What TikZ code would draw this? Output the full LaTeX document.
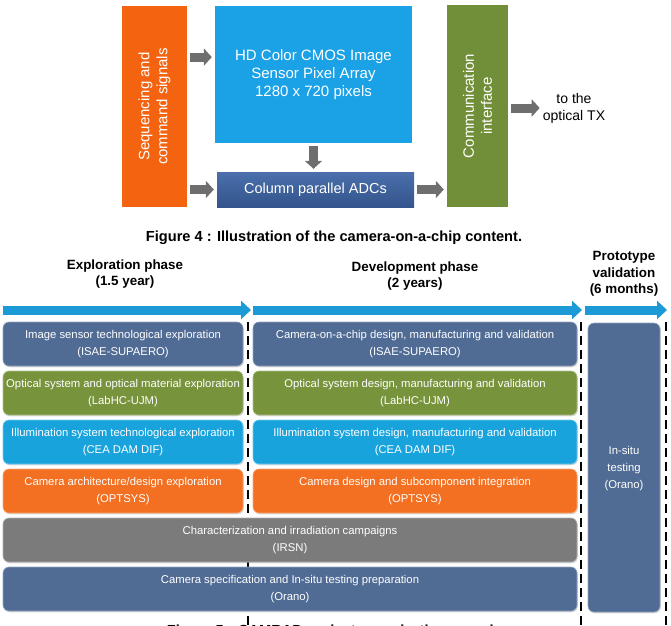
\documentclass[tikz,border=0pt]{standalone}
\usepackage{fontspec}
\setmainfont{Liberation Sans}
\usetikzlibrary{arrows.meta,shadows}

\definecolor{seqorange}{HTML}{F4630F}
\definecolor{sensorblue}{HTML}{1BA1E6}
\definecolor{adctop}{HTML}{4A6FAB}
\definecolor{adcbottom}{HTML}{34558C}
\definecolor{commgreen}{HTML}{718F38}
\definecolor{arrowgray}{HTML}{6E6E6E}
\definecolor{wpnavy}{HTML}{506B94}
\definecolor{wpolive}{HTML}{77933C}
\definecolor{wpcyan}{HTML}{18A3DD}
\definecolor{wporange}{HTML}{F36F21}
\definecolor{wpgray}{HTML}{7B7B7B}
\definecolor{timeblue}{HTML}{1B9AD6}

\begin{document}
\begin{tikzpicture}[x=1pt, y=-1pt,
  chipbox/.style={rectangle, fill=#1, text=white, inner sep=0pt, align=center,
    font=\fontsize{15}{18}\selectfont},
  grayarrow/.style={draw=arrowgray, line width=9pt,
    -{Triangle[length=8pt, width=17pt]}, shorten <=3pt, shorten >=3pt},
  phasebox/.style={rectangle, rounded corners=6pt, fill=#1, draw=#1!60!white,
    line width=0.6pt, text=white, inner sep=0pt, align=center,
    minimum height=44pt, font=\fontsize{11.3}{17}\selectfont,
    drop shadow={shadow xshift=0.8pt, shadow yshift=-1.3pt, opacity=0.3}},
  phasehead/.style={align=center, font=\fontsize{13.4}{16.5}\selectfont\bfseries},
  figcaption/.style={font=\fontsize{14.6}{17}\selectfont\bfseries},
  timeline/.style={draw=timeblue, line width=9pt,
    -{Triangle[length=10pt, width=18pt]}},
  phasesep/.style={line width=2.8pt, dash pattern=on 9pt off 5pt}]
  \useasboundingbox (0,0) rectangle (671,625);

  % Nodes
  \node[chipbox=seqorange, rotate=90, minimum width=201pt, minimum height=65pt] (seq) at (154.5,106.5) {Sequencing and\\command signals};
  \node[chipbox=sensorblue, minimum width=197pt, minimum height=137pt] (sensor) at (313.5,74.5) {HD Color CMOS Image\\Sensor Pixel Array\\1280 x 720 pixels};
  \node[chipbox=adctop, top color=adctop, bottom color=adcbottom, minimum width=197pt, minimum height=35pt, font=\fontsize{14.5}{17}\selectfont] (adc) at (315.5,189.5) {Column parallel ADCs};
  \node[chipbox=commgreen, rotate=90, minimum width=202pt, minimum height=61pt] (comm) at (477.5,106) {Communication\\interface};
  \node[align=center, inner sep=0pt, font=\fontsize{14}{17}\selectfont] (tx) at (574,108) {to the\\optical TX};
  \node[figcaption] (fig4) at (334,238) {Figure 4 : Illustration of the camera-on-a-chip content.};

  % Edges
  \draw[grayarrow] (seq.south |- sensor.170) -- (sensor.west |- sensor.170);
  \draw[grayarrow] (seq.south |- adc.west) -- (adc.west);
  \draw[grayarrow] (sensor.south) -- (sensor.south |- adc.north);
  \draw[grayarrow] (adc.east) -- (comm.north |- adc.east);
  \draw[grayarrow] (comm.south |- tx.west) -- (tx.west);

  % Phases
  \node[phasehead] (explo) at (125,274) {Exploration phase\\(1.5 year)};
  \node[phasehead] (devel) at (415,276) {Development phase\\(2 years)};
  \node[phasehead] (proto) at (624,274) {Prototype\\validation\\(6 months)};

  \coordinate (t0) at (3,310);
  \coordinate (t1) at (251,310);
  \coordinate (t2) at (253,310);
  \coordinate (t3) at (582,310);
  \coordinate (t4) at (585,310);
  \coordinate (t5) at (667,310);
  \draw[timeline] (t0) -- (t1);
  \draw[timeline] (t2) -- (t3);
  \draw[timeline] (t4) -- (t5);

  \draw[phasesep] (248,322) -- (248,625);
  \draw[phasesep] (581,322) -- (581,625);
  \draw[phasesep] (666,322) -- (666,625);

  % Work packages
  \node[phasebox=wpnavy, minimum width=240pt] (wp1a) at (123,344) {Image sensor technological exploration\\(ISAE-SUPAERO)};
  \node[phasebox=wpolive, minimum width=240pt] (wp2a) at (123,393) {Optical system and optical material exploration\\(LabHC-UJM)};
  \node[phasebox=wpcyan, minimum width=240pt] (wp3a) at (123,442) {Illumination system technological exploration\\(CEA DAM DIF)};
  \node[phasebox=wporange, minimum width=240pt] (wp4a) at (123,491) {Camera architecture/design exploration\\(OPTSYS)};

  \node[phasebox=wpnavy, minimum width=324pt] (wp1b) at (415,344) {Camera-on-a-chip design, manufacturing and validation\\(ISAE-SUPAERO)};
  \node[phasebox=wpolive, minimum width=324pt] (wp2b) at (415,393) {Optical system design, manufacturing and validation\\(LabHC-UJM)};
  \node[phasebox=wpcyan, minimum width=324pt] (wp3b) at (415,442) {Illumination system design, manufacturing and validation\\(CEA DAM DIF)};
  \node[phasebox=wporange, minimum width=324pt] (wp4b) at (415,491) {Camera design and subcomponent integration\\(OPTSYS)};

  \node[phasebox=wpgray, minimum width=574pt] (wp5) at (290,540) {Characterization and irradiation campaigns\\(IRSN)};
  \node[phasebox=wpnavy, minimum width=574pt] (wp6) at (290,589) {Camera specification and In-situ testing preparation\\(Orano)};

  \node[phasebox=wpnavy, minimum width=72pt, minimum height=289pt] (wp7) at (624,467.5) {\\[-6pt]In-situ\\testing\\(Orano)};

  \node[figcaption] (fig5) at (340,632) {Figure 5 : CAMRAD project organization overview};
\end{tikzpicture}
\end{document}
